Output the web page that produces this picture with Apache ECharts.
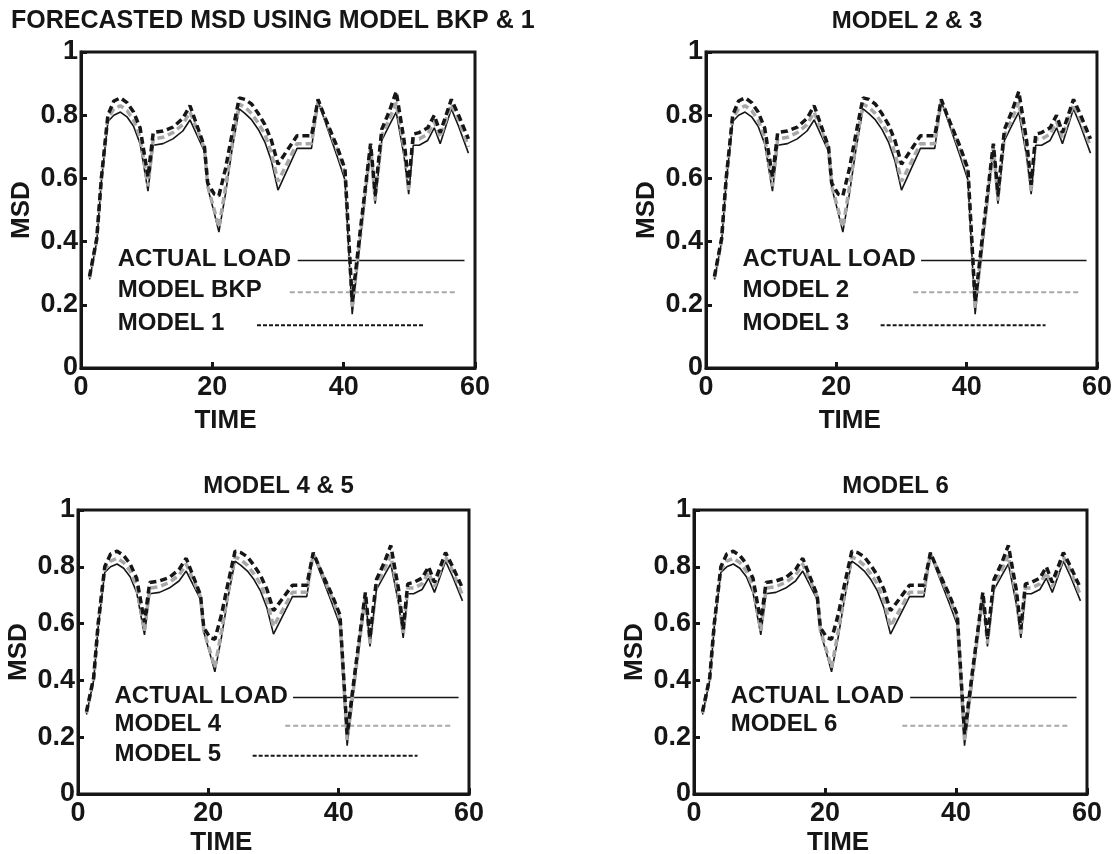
<!DOCTYPE html>
<html lang="en">
<head>
  <meta charset="utf-8">
  <title>Forecasted MSD</title>
</head>
<body style="margin: 0; background: #fff">
  <div id="container" style="width: 1115px; height: 854px"></div>

  <script src="https://cdn.jsdelivr.net/npm/echarts@6/dist/echarts.min.js"></script>
  <script>
    // time samples and the three curves (same in every panel)
    var time = [1.3, 2.4, 3.1, 4.1, 5, 6, 7, 8, 9, 10.2, 11, 12.5, 14, 15.5, 16.6, 18.8, 19.3, 20.3, 21, 22,
      23, 24.1, 25, 26, 27, 28, 29, 30, 32.9, 35.1, 36.1, 37, 38, 39, 40.2, 41.3, 42.5, 44.1, 44.8, 45.8,
      47, 48, 49.2, 49.9, 50.6, 51.5, 52.8, 53.8, 54.7, 56.4, 57.5, 59];
    var actualLoad = [0.28, 0.40, 0.59, 0.78, 0.80, 0.81, 0.795, 0.765, 0.71, 0.56, 0.705, 0.71, 0.725, 0.75, 0.785, 0.685, 0.57, 0.49, 0.43, 0.55,
      0.69, 0.82, 0.805, 0.785, 0.755, 0.715, 0.655, 0.563, 0.695, 0.695, 0.845, 0.79, 0.73, 0.67, 0.595, 0.17, 0.40, 0.70, 0.52, 0.72,
      0.77, 0.81, 0.67, 0.55, 0.705, 0.705, 0.72, 0.76, 0.71, 0.82, 0.765, 0.68];
    var grayModel = [0.285, 0.405, 0.60, 0.79, 0.82, 0.83, 0.815, 0.785, 0.73, 0.575, 0.725, 0.73, 0.745, 0.77, 0.81, 0.695, 0.575, 0.50, 0.445, 0.57,
      0.705, 0.835, 0.825, 0.805, 0.775, 0.74, 0.68, 0.59, 0.71, 0.71, 0.845, 0.80, 0.745, 0.69, 0.615, 0.19, 0.41, 0.70, 0.53, 0.735,
      0.79, 0.84, 0.695, 0.56, 0.725, 0.725, 0.74, 0.78, 0.73, 0.835, 0.785, 0.70];
    var blackModel = [0.29, 0.41, 0.60, 0.80, 0.845, 0.855, 0.84, 0.81, 0.76, 0.605, 0.745, 0.75, 0.762, 0.79, 0.83, 0.70, 0.585, 0.55, 0.545, 0.63,
      0.74, 0.855, 0.85, 0.835, 0.805, 0.77, 0.72, 0.645, 0.735, 0.735, 0.85, 0.80, 0.75, 0.70, 0.63, 0.21, 0.43, 0.71, 0.55, 0.755,
      0.815, 0.875, 0.72, 0.58, 0.74, 0.745, 0.76, 0.80, 0.745, 0.85, 0.80, 0.725];

    var panelTitles = ['FORECASTED MSD USING MODEL BKP & 1', 'MODEL 2 & 3', 'MODEL 4 & 5', 'MODEL 6'];
    var legendNames = [
      ['ACTUAL LOAD', 'MODEL BKP', 'MODEL 1'],
      ['ACTUAL LOAD', 'MODEL 2', 'MODEL 3'],
      ['ACTUAL LOAD', 'MODEL 4', 'MODEL 5'],
      ['ACTUAL LOAD', 'MODEL 6']
    ];

    var FONT = '"Liberation Sans", Arial, sans-serif';
    var INK = '#161616';
    var GRAY = '#a8a8a8';

    // panel boxes
    var boxes = [
      { left: 81, top: 52, width: 394, height: 316 },
      { left: 706, top: 52, width: 392, height: 316 },
      { left: 78, top: 510, width: 391, height: 284 },
      { left: 694, top: 510, width: 393, height: 284 }
    ];

    var dom = document.getElementById('container');
    var myChart = echarts.init(dom, null, { renderer: 'canvas' });

    function pairs(vals) {
      return time.map(function (t, i) { return [t, vals[i]]; });
    }

    var grids = [], xAxes = [], yAxes = [], series = [], titles = [];
    boxes.forEach(function (b, g) {
      grids.push({
        left: b.left, top: b.top, width: b.width, height: b.height,
        show: true, borderColor: INK, borderWidth: 3, containLabel: false
      });
      xAxes.push({
        gridIndex: g, type: 'value', min: 0, max: 60, interval: 20,
        axisLine: { show: true, lineStyle: { color: INK, width: 3 } },
        axisTick: { show: true, inside: true, length: 6, lineStyle: { color: INK, width: 3 } },
        axisLabel: {
          color: INK, fontSize: 27, fontWeight: 'bold', fontFamily: FONT, margin: 6,
          showMinLabel: true, showMaxLabel: true
        },
        splitLine: { show: false }
      });
      yAxes.push({
        gridIndex: g, type: 'value', min: 0, max: 1, interval: 0.2,
        name: 'MSD', nameLocation: 'middle', nameGap: 46, nameRotate: 90,
        nameTextStyle: { color: INK, fontSize: 26, fontWeight: 'bold', fontFamily: FONT },
        axisLine: { show: true, lineStyle: { color: INK, width: 3 } },
        axisTick: { show: true, inside: true, length: 6, lineStyle: { color: INK, width: 3 } },
        axisLabel: {
          color: INK, fontSize: 27, fontWeight: 'bold', fontFamily: FONT, margin: 3,
          formatter: function (v) { return String(Math.round(v * 10) / 10); }
        },
        splitLine: { show: false }
      });
      series.push({
        type: 'line', xAxisIndex: g, yAxisIndex: g, data: pairs(actualLoad),
        symbol: 'none', silent: true, z: 2,
        lineStyle: { color: INK, width: 1.6 }
      });
      series.push({
        type: 'line', xAxisIndex: g, yAxisIndex: g, data: pairs(grayModel),
        symbol: 'none', silent: true, z: 3,
        lineStyle: { color: GRAY, width: 3.5, type: [7, 4] }
      });
      series.push({
        type: 'line', xAxisIndex: g, yAxisIndex: g, data: pairs(blackModel),
        symbol: 'none', silent: true, z: 4,
        lineStyle: { color: INK, width: 3.5, type: [7, 4] }
      });
      if (g === 0) {
        titles.push({
          text: panelTitles[g], left: 6, top: 4,
          textStyle: { color: INK, fontSize: 25, fontWeight: 'bold', fontFamily: FONT }
        });
      } else {
        titles.push({
          text: panelTitles[g], left: b.left + b.width / 2, top: g === 1 ? 4 : b.top - 41, textAlign: 'center',
          textStyle: { color: INK, fontSize: 24, fontWeight: 'bold', fontFamily: FONT }
        });
      }
    });

    myChart.setOption({
      animation: false,
      backgroundColor: '#fff',
      title: titles,
      grid: grids,
      xAxis: xAxes,
      yAxis: yAxes,
      series: series
    });

    // legend text and sample lines placed in data space, plus the TIME labels
    var legendRows = [0.345, 0.245, 0.14];
    var legendLines = [[33, 58.4], [31.8, 57.2], [26.8, 52.1]];
    var graphics = [];
    boxes.forEach(function (b, g) {
      legendNames[g].forEach(function (name, k) {
        var tp = myChart.convertToPixel({ gridIndex: g }, [5.6, legendRows[k]]);
        graphics.push({
          type: 'text', silent: true,
          style: {
            text: name, x: tp[0], y: tp[1], fill: INK,
            font: 'bold 24px ' + FONT, align: 'left', verticalAlign: 'middle'
          }
        });
        var p1 = myChart.convertToPixel({ gridIndex: g }, [legendLines[k][0], legendRows[k] - 0.005]);
        var p2 = myChart.convertToPixel({ gridIndex: g }, [legendLines[k][1], legendRows[k] - 0.005]);
        var st = { stroke: INK, lineWidth: 1.6 };
        if (k === 1) st = { stroke: GRAY, lineWidth: 2, lineDash: [5, 3] };
        if (k === 2) st = { stroke: INK, lineWidth: 2, lineDash: [4, 2] };
        graphics.push({
          type: 'line', silent: true,
          shape: { x1: p1[0], y1: p1[1], x2: p2[0], y2: p2[1] },
          style: st
        });
      });
      graphics.push({
        type: 'text', silent: true,
        style: {
          text: 'TIME', x: b.left + b.width * 22 / 60, y: b.top + b.height + (g < 2 ? 53 : 49), fill: INK,
          font: 'bold 26px ' + FONT, align: 'center', verticalAlign: 'middle'
        }
      });
    });
    myChart.setOption({ graphic: graphics });

    window.addEventListener('resize', myChart.resize);
  </script>
</body>
</html>
